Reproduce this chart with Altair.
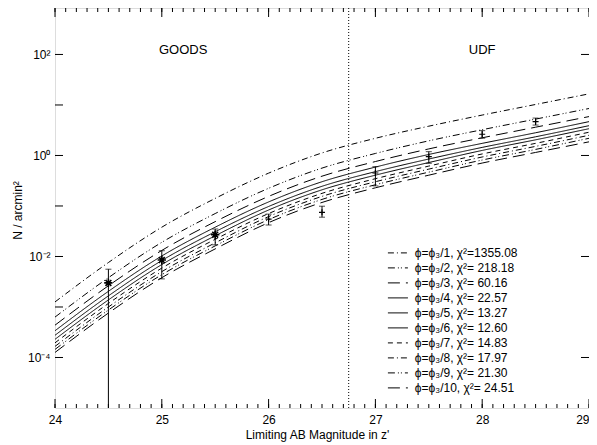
import altair as alt
import pandas as pd

# ---- data ----
mags = [24.0, 24.5, 25.0, 25.5, 26.0, 26.5, 27.0, 27.5, 28.0, 28.5, 29.0]
# log10(N / arcmin^2) for each model curve phi = phi*/k
curve_k = [1, 2, 3, 4, 5, 6, 7, 8, 9, 10]
chi2 = [1355.08, 218.18, 60.16, 22.57, 13.27, 12.60, 14.83, 17.97, 21.30, 24.51]
logN_1 = [-2.90, -2.12, -1.42, -0.85, -0.35, 0.05, 0.34, 0.58, 0.80, 1.01, 1.22]
logN_2 = [-3.20, -2.42, -1.72, -1.15, -0.65, -0.25, 0.04, 0.29, 0.51, 0.72, 0.93]
logN_3 = [-3.36, -2.58, -1.88, -1.31, -0.81, -0.41, -0.12, 0.13, 0.35, 0.56, 0.77]
logN_4 = [-3.47, -2.69, -1.99, -1.42, -0.92, -0.52, -0.23, 0.02, 0.24, 0.45, 0.67]
logN_5 = [-3.56, -2.78, -2.08, -1.51, -1.01, -0.61, -0.32, -0.07, 0.16, 0.37, 0.59]
logN_6 = [-3.64, -2.86, -2.16, -1.59, -1.08, -0.68, -0.39, -0.14, 0.10, 0.31, 0.53]
logN_7 = [-3.71, -2.93, -2.23, -1.66, -1.15, -0.75, -0.46, -0.21, 0.03, 0.24, 0.46]
logN_8 = [-3.78, -3.00, -2.30, -1.73, -1.21, -0.81, -0.52, -0.27, -0.03, 0.18, 0.40]
logN_9 = [-3.84, -3.06, -2.36, -1.79, -1.27, -0.87, -0.58, -0.33, -0.09, 0.12, 0.34]
logN_10 = [-3.90, -3.12, -2.42, -1.85, -1.33, -0.93, -0.64, -0.39, -0.15, 0.06, 0.27]
curves = [logN_1, logN_2, logN_3, logN_4, logN_5, logN_6, logN_7, logN_8, logN_9, logN_10]

# observed counts
obs_mag = [24.5, 25.0, 25.5, 26.0, 26.5, 27.0, 27.5, 28.0, 28.5]
obs_N = [0.0030, 0.0085, 0.027, 0.055, 0.075, 0.45, 0.95, 2.63, 4.66]
obs_lo = [1e-7, 0.0036, 0.017, 0.042, 0.060, 0.25, 0.70, 2.2, 4.0]
obs_hi = [0.0056, 0.013, 0.035, 0.069, 0.099, 0.60, 1.19, 3.1, 5.5]
obs_survey = ["GOODS", "GOODS", "GOODS", "UDF", "UDF", "UDF", "UDF", "UDF", "UDF"]

boundary_mag = [26.75]
region_names = ["GOODS", "UDF"]
region_mag = [25.2, 28.0]
region_N = [120.0, 120.0]

x_ticks_major = [24, 25, 26, 27, 28, 29]
x_ticks_minor = [round(24 + 0.1 * i, 1) for i in range(51)]
y_ticks = [1e-4, 1e-2, 1.0, 1e2]
y_ticks_all = [1e-4, 1e-3, 1e-2, 1e-1, 1.0, 1e1, 1e2]

# ---- styles ----
W, H = 534, 400
FONT = "Liberation Sans"
dashes = [[6, 3, 1, 3], [7, 3, 1, 2, 1, 3], [12, 6], [1, 0], [1, 0], [1, 0],
          [5, 4], [6, 3, 1, 3], [7, 3, 1, 2, 1, 3], [12, 6]]

labels = []
rows = []
for k, c, vals in zip(curve_k, chi2, curves):
    lab = f"ϕ=ϕ₃/{k}, χ²={'' if c >= 1000 else ' '}{c:.2f}"
    labels.append(lab)
    for m, v in zip(mags, vals):
        rows.append({"mag": m, "N": 10 ** v, "label": lab})
curve_df = pd.DataFrame(rows)

obs_df = pd.DataFrame({"mag": obs_mag, "N": obs_N, "lo": obs_lo, "hi": obs_hi,
                       "survey": obs_survey})
lo_caps = obs_df[obs_df["lo"] > 1e-5]

xs = alt.Scale(domain=[24, 29], nice=False, zero=False)
ys = alt.Scale(type="log", domain=[1e-5, 10 ** 2.92], nice=False)

ylab = ("datum.value >= 50 ? '10²' : datum.value >= 0.5 ? '10⁰' : "
        "datum.value >= 0.005 ? '10⁻²' : '10⁻⁴'")

XAX = alt.Axis(values=x_ticks_major, format="d", ticks=False, domain=False, grid=False,
               labelFontSize=12, labelPadding=6, labelFlush=False, labelColor="black",
               labelAlign={"condition": {"test": "datum.value >= 29", "value": "right"}, "value": "center"},
               title="Limiting AB Magnitude in z'", titleFontSize=12, titleFontWeight="normal",
               titleX=262, titleY=30, titleBaseline="alphabetic", titleColor="black")
YAX = alt.Axis(values=y_ticks, labelExpr=ylab, ticks=False, domain=False, grid=False,
               labelFontSize=12, labelPadding=5, labelColor="black",
               title="N / arcmin²", titleFontSize=12, titleFontWeight="normal",
               titleX=-38, titleY=202, titleBaseline="middle", titleColor="black")


def X(field):
    return alt.X(field, scale=xs, axis=XAX, title="Limiting AB Magnitude in z'")


def Y(field):
    return alt.Y(field, scale=ys, axis=YAX, title="N / arcmin²")


base_curves = alt.Chart(curve_df).mark_line(color="black", strokeWidth=1, interpolate="monotone").encode(
    x=X("mag:Q"),
    y=Y("N:Q"),
    strokeDash=alt.StrokeDash("label:N", scale=alt.Scale(domain=labels, range=dashes),
                              sort=labels,
                              legend=alt.Legend(title=None, orient="none", legendX=334.4, legendY=236.4,
                                                symbolType="M-1.316,0H1.316", symbolSize=231,
                                                symbolStrokeWidth=1, symbolStrokeColor="black",
                                                symbolFillColor="transparent",
                                                labelFontSize=12, labelFont=FONT, labelColor="black",
                                                rowPadding=0, padding=0, labelOffset=8.4,
                                                labelLimit=300)),
)

boundary = alt.Chart(pd.DataFrame({"mag": boundary_mag})).mark_rule(
    color="black", strokeWidth=1, strokeDash=[1, 2]).encode(x=X("mag:Q"))

region_text = alt.Chart(pd.DataFrame({"name": region_names, "mag": region_mag, "N": region_N})).mark_text(
    fontSize=13, font=FONT, color="black").encode(x=X("mag:Q"), y=Y("N:Q"), text="name:N")

err = alt.Chart(obs_df).mark_rule(color="black", strokeWidth=1, clip=True).encode(
    x=X("mag:Q"), y=Y("lo:Q"), y2="hi:Q")
cap_hi = alt.Chart(obs_df).mark_tick(color="black", orient="horizontal", size=6, thickness=1).encode(
    x=X("mag:Q"), y=Y("hi:Q"))
cap_lo = alt.Chart(lo_caps).mark_tick(color="black", orient="horizontal", size=6, thickness=1).encode(
    x=X("mag:Q"), y=Y("lo:Q"))

asterisk = "M-1,0L1,0M0,-1L0,1M-0.7,-0.7L0.7,0.7M-0.7,0.7L0.7,-0.7"
plus = "M-1,0L1,0M0,-1L0,1"
pts_goods = alt.Chart(obs_df[obs_df["survey"] == "GOODS"]).mark_point(
    shape=asterisk, size=70, filled=False, color="black", strokeWidth=1.6, opacity=1).encode(
    x=X("mag:Q"), y=Y("N:Q"))
pts_udf = alt.Chart(obs_df[obs_df["survey"] == "UDF"]).mark_point(
    shape=plus, size=36, filled=False, color="black", strokeWidth=1.2, opacity=1).encode(
    x=X("mag:Q"), y=Y("N:Q"))

# inward axis ticks
xmaj = pd.DataFrame({"mag": x_ticks_major})
xmin = pd.DataFrame({"mag": x_ticks_minor})
yall = pd.DataFrame({"N": y_ticks_all})
ymaj = pd.DataFrame({"N": y_ticks})
tk = dict(color="black", strokeWidth=1)
ticks = [
    alt.Chart(xmaj).mark_rule(**tk).encode(x=X("mag:Q"), y=alt.value(H), y2=alt.value(H - 9)),
    alt.Chart(xmaj).mark_rule(**tk).encode(x=X("mag:Q"), y=alt.value(0), y2=alt.value(9)),
    alt.Chart(xmin).mark_rule(**tk).encode(x=X("mag:Q"), y=alt.value(H), y2=alt.value(H - 4)),
    alt.Chart(xmin).mark_rule(**tk).encode(x=X("mag:Q"), y=alt.value(0), y2=alt.value(4)),
    alt.Chart(yall).mark_rule(**tk).encode(y=Y("N:Q"), x=alt.value(0), x2=alt.value(8)),
    alt.Chart(ymaj).mark_rule(**tk).encode(y=Y("N:Q"), x=alt.value(W), x2=alt.value(W - 8)),
]

chart = alt.layer(base_curves, boundary, region_text, err, cap_hi, cap_lo, pts_goods, pts_udf, *ticks).properties(
    width=W, height=H,
    autosize=alt.AutoSizeParams(type="none"),
    padding={"left": 47, "top": 0, "right": 0, "bottom": 37},
).configure_view(stroke="black", strokeWidth=1).configure(font=FONT, background="white")

chart.save("out.html", embed_options={"renderer": "svg", "actions": False})
